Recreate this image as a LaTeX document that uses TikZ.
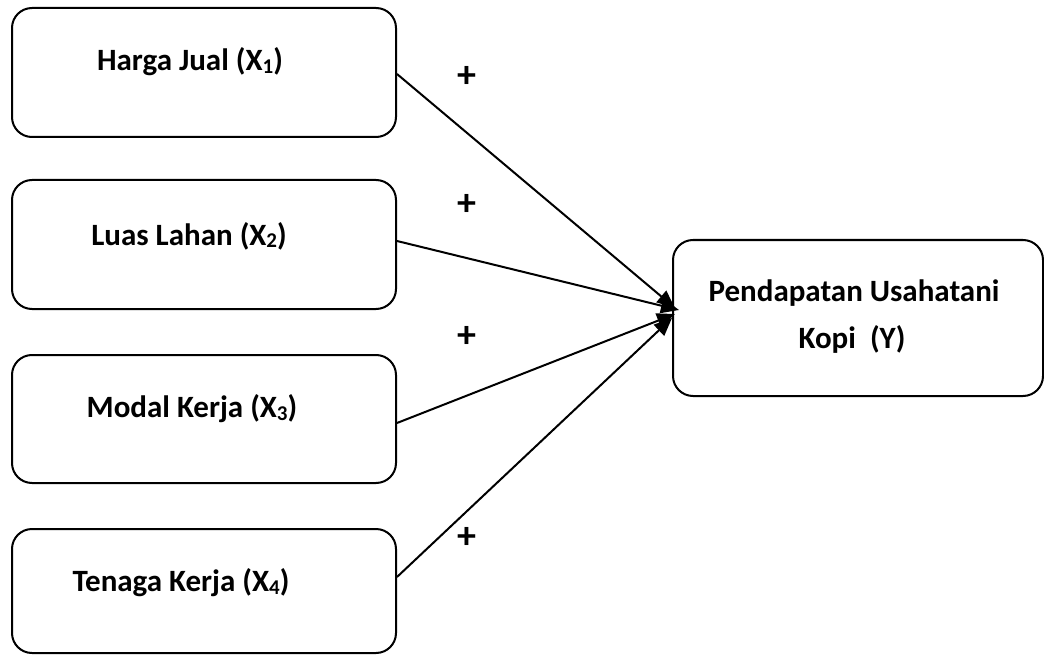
\documentclass[tikz,border=0pt]{standalone}
\usepackage{fontspec}
\setmainfont{Carlito}
\usetikzlibrary{arrows.meta}
\newcommand{\subx}[1]{\raisebox{-2.5pt}{\fontsize{21}{21}\selectfont #1}}
\begin{document}
\begin{tikzpicture}[x=1pt,y=-1pt,
  box/.style={draw,line width=2pt,rounded corners=20pt,inner sep=0pt},
  lbl/.style={font=\fontsize{31}{37}\selectfont\bfseries,inner sep=0pt},
  plus/.style={font=\fontsize{38}{40}\selectfont\bfseries,inner sep=0pt},
  conn/.style={line width=2pt,-{Triangle[length=18pt,width=15pt]}}]
\useasboundingbox (0,0) rectangle (1044,655);
\node[box,minimum width=384pt,minimum height=129pt] (b1) at (204,72.5) {};
\node[box,minimum width=384pt,minimum height=129pt] (b2) at (204,244.5) {};
\node[box,minimum width=384pt,minimum height=128pt] (b3) at (204,419) {};
\node[box,minimum width=384pt,minimum height=124pt] (b4) at (204,591) {};
\node[box,minimum width=370pt,minimum height=156pt] (y) at (858,318) {};
\node[lbl] (t1) at (190,62) {Harga Jual (X\subx{1})};
\node[lbl] (t2) at (189,236) {Luas Lahan (X\subx{2})};
\node[lbl] (t3) at (192,409) {Modal Kerja (X\subx{3})};
\node[lbl] (t4) at (181,583) {Tenaga Kerja (X\subx{4})};
\node[lbl] (ty1) at (854,293) {Pendapatan Usahatani};
\node[lbl] (ty2) at (852,339) {Kopi\ \ (Y)};
\node[plus] (p1) at (467,77) {+};
\node[plus] (p2) at (467,205) {+};
\node[plus] (p3) at (467,337) {+};
\node[plus] (p4) at (467,538) {+};
\coordinate (e1) at (675,308);
\coordinate (e2) at (679,310);
\coordinate (e3) at (675,314);
\coordinate (e4) at (672,318);
\draw[conn] (b1.east |- 0,74) -- (e1);
\draw[conn] (b2.east |- 0,241) -- (e2);
\draw[conn] (b3.east |- 0,423) -- (e3);
\draw[conn] (b4.east |- 0,577) -- (e4);
\end{tikzpicture}
\end{document}
